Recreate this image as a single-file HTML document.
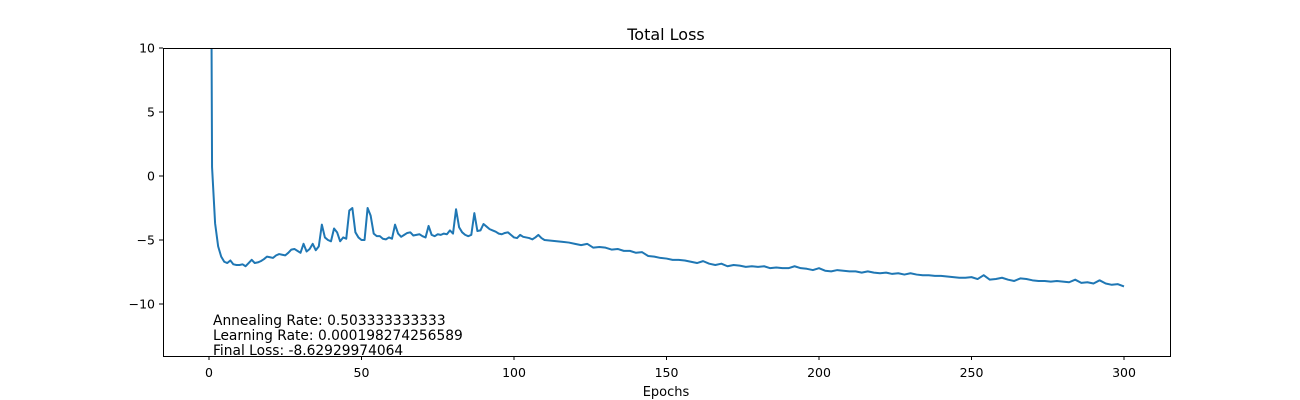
<!DOCTYPE html>
<html><head><meta charset="utf-8"><style>
html,body{margin:0;padding:0;background:#fff;}
svg{display:block;font-family:"DejaVu Sans","Liberation Sans",sans-serif;}
</style></head><body>
<svg id="chart" width="1300" height="400" xmlns="http://www.w3.org/2000/svg">
<defs><clipPath id="clip"><rect x="163" y="48" width="1007" height="308"/></clipPath></defs>
<rect x="0" y="0" width="1300" height="400" fill="#fff"/>
<text x="666" y="40" text-anchor="middle" font-size="16" fill="#000">Total Loss</text>
<g id="xticks"></g>
<g id="yticks"></g>
<path id="line" clip-path="url(#clip)" fill="none" stroke="#1f77b4" stroke-width="2" stroke-linejoin="round"/>
<rect x="163.5" y="48.5" width="1007" height="308" fill="none" stroke="#000" stroke-width="1"/>
<text x="213" y="325" font-size="13.8" fill="#000">Annealing Rate: 0.503333333333</text>
<text x="213" y="340" font-size="13.8" fill="#000">Learning Rate: 0.000198274256589</text>
<text x="213" y="355" font-size="13.8" fill="#000">Final Loss: -8.62929974064</text>
<text x="666" y="396" text-anchor="middle" font-size="13" fill="#000">Epochs</text>
</svg>
<script>
const epochs = [0,1,2,3,4,5,6,7,8,9,10,11,12,13,14,15,16,17,18,19,20,21,22,23,24,25,26,27,28,29,30,31,32,33,34,35,36,37,38,39,40,41,42,43,44,45,46,47,48,49,50,51,52,53,54,55,56,57,58,59,60,61,62,63,64,65,66,67,68,69,70,71,72,73,74,75,76,77,78,79,80,81,82,83,84,85,86,87,88,89,90,91,92,93,94,95,96,97,98,99,100,101,102,103,104,105,106,107,108,109,110,112,114,116,118,120,122,124,126,128,130,132,134,136,138,140,142,144,146,148,150,152,154,156,158,160,162,164,166,168,170,172,174,176,178,180,182,184,186,188,190,192,194,196,198,200,202,204,206,208,210,212,214,216,218,220,222,224,226,228,230,232,234,236,238,240,242,244,246,248,250,252,254,256,258,260,262,264,266,268,270,272,274,276,278,280,282,284,286,288,290,292,294,296,298,300];
const losses = [60,0.7,-3.7,-5.5,-6.3,-6.7,-6.8,-6.6,-6.9,-6.95,-6.95,-6.9,-7.05,-6.8,-6.55,-6.8,-6.75,-6.65,-6.5,-6.3,-6.35,-6.4,-6.2,-6.1,-6.15,-6.2,-6.0,-5.75,-5.7,-5.85,-6.0,-5.3,-5.9,-5.7,-5.3,-5.8,-5.5,-3.8,-4.8,-5.0,-5.1,-4.1,-4.4,-5.1,-4.8,-4.9,-2.7,-2.5,-4.4,-4.8,-5.0,-5.0,-2.5,-3.1,-4.5,-4.7,-4.7,-4.9,-4.95,-4.8,-4.9,-3.8,-4.5,-4.75,-4.6,-4.45,-4.4,-4.65,-4.6,-4.55,-4.7,-4.8,-3.9,-4.6,-4.7,-4.55,-4.6,-4.5,-4.55,-4.25,-4.5,-2.6,-4.0,-4.4,-4.6,-4.7,-4.6,-2.9,-4.3,-4.25,-3.75,-3.95,-4.15,-4.25,-4.35,-4.5,-4.55,-4.45,-4.4,-4.6,-4.8,-4.85,-4.6,-4.75,-4.8,-4.85,-4.95,-4.8,-4.6,-4.85,-5.0,-5.05,-5.1,-5.15,-5.2,-5.3,-5.4,-5.3,-5.6,-5.55,-5.6,-5.75,-5.7,-5.85,-5.85,-6.0,-5.95,-6.25,-6.3,-6.4,-6.45,-6.55,-6.55,-6.6,-6.7,-6.8,-6.65,-6.85,-6.95,-6.85,-7.05,-6.95,-7.0,-7.1,-7.05,-7.1,-7.05,-7.2,-7.15,-7.2,-7.2,-7.05,-7.2,-7.25,-7.35,-7.2,-7.4,-7.45,-7.35,-7.4,-7.45,-7.45,-7.55,-7.45,-7.55,-7.6,-7.55,-7.65,-7.6,-7.7,-7.6,-7.7,-7.75,-7.75,-7.8,-7.8,-7.85,-7.9,-7.95,-7.95,-7.9,-8.05,-7.75,-8.1,-8.05,-7.95,-8.1,-8.2,-8.0,-8.05,-8.15,-8.2,-8.2,-8.25,-8.2,-8.25,-8.3,-8.1,-8.35,-8.3,-8.4,-8.15,-8.4,-8.5,-8.45,-8.63];
const xTickVals = [0,50,100,150,200,250,300];
const yTickVals = [10,5,0,-5,-10];

function xs(v){ return 209 + (v - 0) * (1124 - 209) / 300; }
function ys(v){ return 176 - v * (176 - 48) / 10; }

const NS = "http://www.w3.org/2000/svg";
const xg = document.getElementById('xticks');
xTickVals.forEach(v => {
  const t = document.createElementNS(NS, 'line');
  t.setAttribute('x1', xs(v)); t.setAttribute('x2', xs(v));
  t.setAttribute('y1', 356); t.setAttribute('y2', 360);
  t.setAttribute('stroke', '#000');
  
  
  xg.appendChild(t);
  const l = document.createElementNS(NS, 'text');
  l.setAttribute('x', xs(v)); l.setAttribute('y', 377);
  l.setAttribute('text-anchor', 'middle'); l.setAttribute('font-size', '12.5');
  l.textContent = v;
  
  
  xg.appendChild(l);
});
const yg = document.getElementById('yticks');
yTickVals.forEach(v => {
  const t = document.createElementNS(NS, 'line');
  t.setAttribute('x1', 159); t.setAttribute('x2', 163);
  t.setAttribute('y1', ys(v)); t.setAttribute('y2', ys(v));
  t.setAttribute('stroke', '#000');
  
  
  yg.appendChild(t);
  const l = document.createElementNS(NS, 'text');
  l.setAttribute('x', 155); l.setAttribute('y', ys(v) + 4.5);
  l.setAttribute('text-anchor', 'end'); l.setAttribute('font-size', '12.5');
  l.textContent = v < 0 ? '\u2212' + Math.abs(v) : v;
  
  
  yg.appendChild(l);
});
let d = '';
epochs.forEach((e, i) => { d += (i ? 'L' : 'M') + xs(e).toFixed(2) + ',' + ys(losses[i]).toFixed(2); });
document.getElementById('line').setAttribute('d', d);
</script>
</body></html>
